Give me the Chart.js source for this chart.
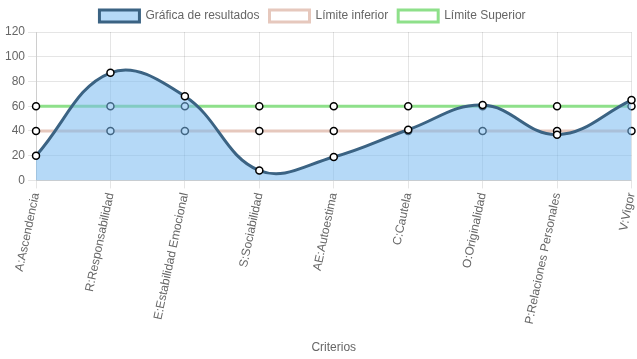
<!DOCTYPE html>
<html>
<head>
<meta charset="utf-8">
<script src="https://cdn.jsdelivr.net/npm/chart.js@4"></script>
<style>
  html, body { margin: 0; padding: 0; background: #fff; }
  #wrap { width: 637px; height: 359px; }
</style>
</head>
<body>
<div id="wrap"><canvas id="grafica"></canvas></div>
<script>
var criterios = ['A:Ascendencia', 'R:Responsabilidad', 'E:Estabilidad Emocional', 'S:Sociabilidad',
	'AE:Autoestima', 'C:Cautela', 'O:Originalidad', 'P:Relaciones Personales', 'V:Vigor'];
var resultados = [20, 87, 68, 8, 19, 41, 61, 37, 65];
var limiteInferior = [40, 40, 40, 40, 40, 40, 40, 40, 40];
var limiteSuperior = [60, 60, 60, 60, 60, 60, 60, 60, 60];

Chart.defaults.font.family = "'Liberation Sans', Arial, sans-serif";
Chart.defaults.color = '#666';

var puntos = {
	pointRadius: 3.5,
	pointBackgroundColor: '#fff',
	pointBorderColor: '#000',
	pointBorderWidth: 1.5
};

// la leyenda del original esta un poco corrida a la izquierda
var moverLeyenda = {
	id: 'moverLeyenda',
	afterLayout: function(chart) {
		if (chart.legend) {
			chart.legend.left -= 7;
			chart.legend.right -= 7;
		}
	}
};

new Chart(document.getElementById('grafica'), {
	type: 'line',
	data: {
		labels: criterios,
		datasets: [
			Object.assign({
				label: 'Gráfica de resultados',
				data: resultados,
				borderColor: '#3b6383',
				backgroundColor: 'rgba(120,185,240,0.55)',
				borderWidth: 3,
				fill: true,
				tension: 0.4
			}, puntos),
			Object.assign({
				label: 'Límite inferior',
				data: limiteInferior,
				borderColor: '#e6c8bd',
				backgroundColor: '#fff',
				borderWidth: 3,
				fill: false
			}, puntos),
			Object.assign({
				label: 'Límite Superior',
				data: limiteSuperior,
				borderColor: '#8ee08a',
				backgroundColor: '#fff',
				borderWidth: 3,
				fill: false
			}, puntos)
		]
	},
	options: {
		responsive: true,
		maintainAspectRatio: false,
		animation: false,
		layout: {
			padding: { left: 2 }
		},
		plugins: {
			legend: {
				labels: { boxWidth: 40, font: { size: 12 } }
			},
			tooltip: { enabled: false }
		},
		scales: {
			x: {
				ticks: { minRotation: 78, maxRotation: 78, font: { size: 12 } },
				title: { display: true, text: 'Criterios', font: { size: 12 } },
				// deja mas hueco entre etiquetas y titulo y menos margen a la derecha, como el original
				afterFit: function(scale) {
					scale.height += 8;
					scale.paddingRight = 2;
				}
			},
			y: {
				min: 0,
				max: 120,
				ticks: { stepSize: 20, font: { size: 12 } }
			}
		}
	},
	plugins: [moverLeyenda]
});
</script>
</body>
</html>
